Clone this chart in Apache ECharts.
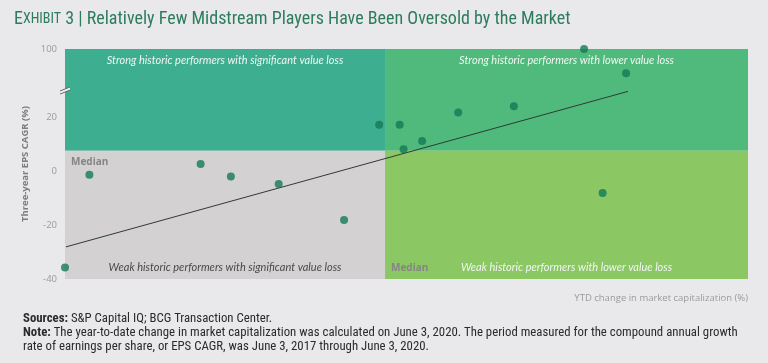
<!DOCTYPE html>
<html><head><meta charset="utf-8">
<script src="https://cdn.jsdelivr.net/npm/echarts@6/dist/echarts.min.js"></script>
<style>html,body{margin:0;padding:0;background:#e9e9eb;} #c{width:768px;height:363px;}</style>
</head><body><div id="c"></div>
<script>
// ---- data ----
const ytdChange = [-67.5, -70, -56.1, -53, -48.1, -41.4, -37.8, -35.7, -35.3, -33.4, -29.7, -24, -16.8, -14.9, -12.5];
const epsCagr   = [-1.4, -35.7, 2.6, -2.0, -4.8, -18.1, 17.1, 17.1, 8.1, 11.1, 21.7, 24, 100, -8.1, 91];
const medianYtd = -37.2;
const medianEps = 7.5;
const trendX = [-69.9, -12.3];
const trendY = [-28.1, 29.5];
const yTickValues = [-40, -20, 0, 20, 100];
const xRange = [-70, 0];
const yRange = [-40, 100];
const yBreak = [30, 90];
const quadrantLabels = [
  'Strong historic performers with significant value loss',
  'Strong historic performers with lower value loss',
  'Weak historic performers with significant value loss',
  'Weak historic performers with lower value loss'
];
const medianLabel = 'Median';

const chart = echarts.init(document.getElementById('c'), null, {renderer: 'canvas'});
const narrow = "'Liberation Sans Narrow','Roboto Condensed','Roboto',sans-serif";
const qFont = "'Lato','Open Sans',sans-serif";

function qLabel(text, pos, color) {
  return {show: true, position: pos, distance: 6, formatter: text, color: color,
    fontStyle: 'italic', fontSize: 11, fontFamily: qFont};
}
function mLabel(pos) {
  return {show: true, position: pos, distance: 6, formatter: medianLabel, color: '#858585',
    fontWeight: 'bold', fontSize: 10, fontFamily: "'Open Sans',sans-serif"};
}

const option = {
  backgroundColor: '#e9e9eb',
  animation: false,
  grid: {left: 65, right: 20, top: 49, bottom: 84},
  xAxis: {
    type: 'value', min: xRange[0], max: xRange[1],
    axisLine: {show: false}, axisTick: {show: false}, axisLabel: {show: false}, splitLine: {show: false}
  },
  yAxis: {
    type: 'value', min: yRange[0], max: yRange[1],
    breaks: [{start: yBreak[0], end: yBreak[1], gap: 5.2}],
    breakArea: {show: false, expandOnClick: false},
    axisLine: {show: false}, axisTick: {show: false}, splitLine: {show: false},
    axisLabel: {customValues: yTickValues, color: '#9a9a9a', fontSize: 9.5, margin: 8,
      fontFamily: "'Open Sans',sans-serif"},
    name: 'Three-year EPS CAGR (%)', nameLocation: 'middle', nameGap: 34,
    nameTextStyle: {color: '#7d7d7d', fontWeight: 'bold', fontSize: 9.5, fontFamily: "'Open Sans',sans-serif"}
  },
  series: [
    {
      type: 'scatter', data: [], z: 1, silent: true,
      markArea: {
        silent: true,
        data: [
          [{xAxis: xRange[0], yAxis: medianEps, itemStyle: {color: '#3dae90'},
            label: qLabel(quadrantLabels[0], 'insideTop', '#f0f5f2')}, {xAxis: medianYtd, yAxis: yRange[1]}],
          [{xAxis: medianYtd, yAxis: medianEps, itemStyle: {color: '#4fba7b'},
            label: qLabel(quadrantLabels[1], 'insideTop', '#f0f5f2')}, {xAxis: xRange[1], yAxis: yRange[1]}],
          [{xAxis: xRange[0], yAxis: yRange[0], itemStyle: {color: '#d3d1d2'},
            label: qLabel(quadrantLabels[2], 'insideBottom', '#4a4a4a')}, {xAxis: medianYtd, yAxis: medianEps}],
          [{xAxis: medianYtd, yAxis: yRange[0], itemStyle: {color: '#8bc763'},
            label: qLabel(quadrantLabels[3], 'insideBottom', '#f0f5f2')}, {xAxis: xRange[1], yAxis: medianEps}],
          [{xAxis: xRange[0], yAxis: yRange[0], itemStyle: {color: 'rgba(0,0,0,0)'},
            label: mLabel('insideTopLeft')}, {xAxis: medianYtd, yAxis: medianEps}],
          [{xAxis: medianYtd, yAxis: yRange[0], itemStyle: {color: 'rgba(0,0,0,0)'},
            label: mLabel('insideBottomLeft')}, {xAxis: xRange[1], yAxis: medianEps}]
        ]
      }
    },
    {
      type: 'line', z: 2, silent: true, symbol: 'none',
      data: trendX.map((x, i) => [x, trendY[i]]),
      lineStyle: {color: '#2f3a35', width: 1}
    },
    {
      type: 'scatter', z: 3, symbolSize: 8, clip: false,
      itemStyle: {color: '#137a57'},
      data: ytdChange.map((x, i) => [x, epsCagr[i]])
    }
  ],
  graphic: [
    {type: 'text', left: 14, top: 10, style: {
      text: '{e|E}{s|XHIBIT}{e| 3 | Relatively Few Midstream Players Have Been Oversold by the Market}',
      rich: {
        e: {fontSize: 18, fill: '#2d7c5d', fontFamily: narrow},
        s: {fontSize: 14, fill: '#2d7c5d', fontFamily: narrow}
      }
    }},
    {type: 'text', right: 20, top: 293, style: {
      text: 'YTD change in market capitalization (%)', fill: '#9a9a9a', fontSize: 9.5,
      fontFamily: "'Open Sans',sans-serif"
    }},
    {type: 'text', left: 23, top: 312, style: {
      text: '{b|Sources:} S&P Capital IQ; BCG Transaction Center.',
      rich: {b: {fontWeight: 'bold', fontSize: 12.8, fill: '#2b2b2b', fontFamily: narrow}},
      fontSize: 12.8, fill: '#2b2b2b', fontFamily: narrow
    }},
    {type: 'text', left: 23, top: 326, style: {
      text: '{b|Note:} The year-to-date change in market capitalization was calculated on June 3, 2020. The period measured for the compound annual growth',
      rich: {b: {fontWeight: 'bold', fontSize: 12.8, fill: '#2b2b2b', fontFamily: narrow}},
      fontSize: 12.8, fill: '#2b2b2b', fontFamily: narrow
    }},
    {type: 'text', left: 23, top: 340, style: {
      text: 'rate of earnings per share, or EPS CAGR, was June 3, 2017 through June 3, 2020.',
      fontSize: 12.8, fill: '#2b2b2b', fontFamily: narrow
    }}
  ]
};
chart.setOption(option);

// axis-break marker on the y axis, positioned through the chart's own coordinate system
const bp = chart.convertToPixel({gridIndex: 0}, [xRange[0], yBreak[0]]);
bp[1] -= 1;
chart.setOption({graphic: option.graphic.concat([
  {type: 'polygon', z: 100, shape: {points: [[bp[0]-5, bp[1]+2], [bp[0]+5, bp[1]-2], [bp[0]+5, bp[1]+1], [bp[0]-5, bp[1]+5]]},
   style: {fill: '#f4f4f4', stroke: null}},
  {type: 'line', z: 101, shape: {x1: bp[0]-5, y1: bp[1]+2, x2: bp[0]+5, y2: bp[1]-2}, style: {stroke: '#666', lineWidth: 1}},
  {type: 'line', z: 101, shape: {x1: bp[0]-5, y1: bp[1]+5, x2: bp[0]+5, y2: bp[1]+1}, style: {stroke: '#666', lineWidth: 1}}
])});
</script>
</body></html>
